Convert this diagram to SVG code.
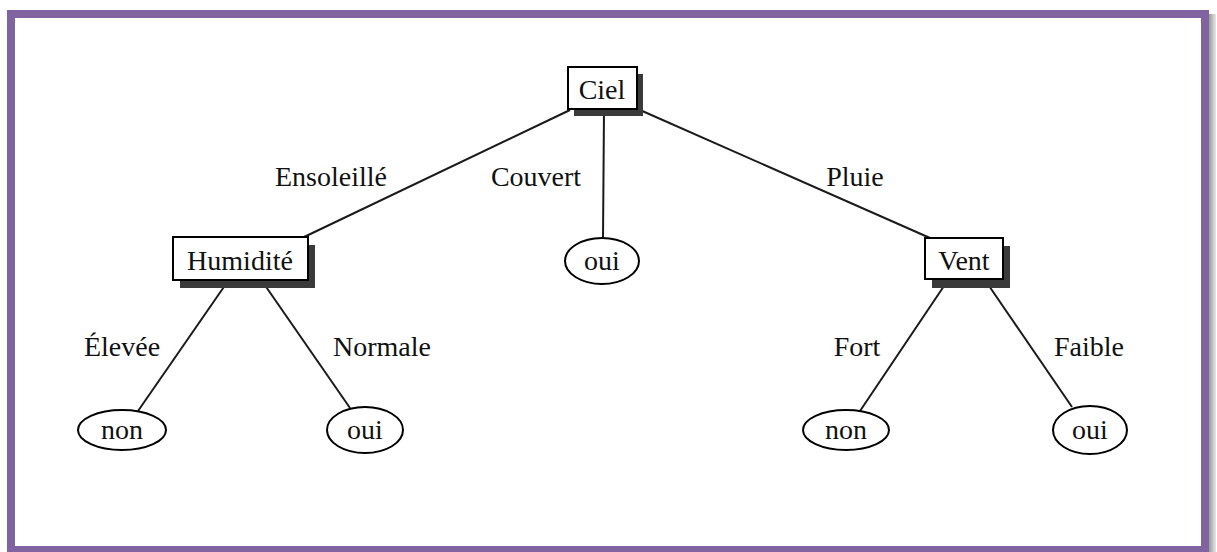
<svg xmlns="http://www.w3.org/2000/svg" width="1217" height="552" viewBox="0 0 1217 552">
  <style>
    .frame { fill: #ffffff; stroke: #8064a2; stroke-width: 8; }
    .edge { stroke: #1a1a1a; stroke-width: 2; fill: none; }
    .box { fill: #ffffff; stroke: #000000; stroke-width: 2; }
    .shadow { fill: #3a3a3a; }
    .leaf { fill: #ffffff; stroke: #000000; stroke-width: 2; }
    text { font-family: "Liberation Serif", "DejaVu Serif", serif; font-size: 28px; fill: #111111; }
    .c { text-anchor: middle; }
  </style>
  <defs>
    <linearGradient id="edgeShade" x1="0" y1="0" x2="1" y2="0">
      <stop offset="0" stop-color="#9a9a9a"/>
      <stop offset="1" stop-color="#e8e8e8"/>
    </linearGradient>
  </defs>

  <rect x="0" y="0" width="1217" height="552" fill="#ffffff"/>
  <!-- outer frame with a soft grey shadow on the right -->
  <rect x="1209" y="14" width="7" height="538" fill="url(#edgeShade)"/>
  <rect class="frame" x="11" y="14" width="1194" height="536"/>

  <g id="connectors">
    <line class="edge" x1="570" y1="110" x2="302" y2="238"/>
    <line class="edge" x1="604" y1="110" x2="603" y2="238"/>
    <line class="edge" x1="640" y1="110" x2="930" y2="238"/>
    <line class="edge" x1="228" y1="281" x2="138" y2="411"/>
    <line class="edge" x1="262" y1="281" x2="350" y2="408"/>
    <line class="edge" x1="948" y1="280" x2="860" y2="411"/>
    <line class="edge" x1="985" y1="280" x2="1072" y2="407"/>
    <text class="c" x="331" y="186">Ensoleillé</text>
    <text class="c" x="536" y="186">Couvert</text>
    <text class="c" x="855" y="186">Pluie</text>
    <text class="c" x="122" y="356">Élevée</text>
    <text class="c" x="382" y="356">Normale</text>
    <text class="c" x="857" y="356">Fort</text>
    <text class="c" x="1089" y="356">Faible</text>
  </g>

  <g id="ciel">
    <rect class="shadow" x="574" y="74" width="69" height="42"/>
    <rect class="box" x="568" y="67" width="69" height="42"/>
    <text class="c" x="602" y="99">Ciel</text>
  </g>

  <g id="humidite">
    <rect class="shadow" x="180" y="245" width="135" height="43"/>
    <rect class="box" x="173" y="237" width="135" height="43"/>
    <text class="c" x="240" y="270">Humidité</text>
  </g>

  <g id="vent">
    <rect class="shadow" x="932" y="246" width="78" height="42"/>
    <rect class="box" x="925" y="238" width="78" height="41"/>
    <text class="c" x="964" y="270">Vent</text>
  </g>

  <g id="oui-couvert">
    <ellipse class="leaf" cx="602" cy="261" rx="37" ry="23"/>
    <text class="c" x="602" y="270">oui</text>
  </g>

  <g id="non-elevee">
    <ellipse class="leaf" cx="122" cy="430" rx="44" ry="20"/>
    <text class="c" x="122" y="439">non</text>
  </g>

  <g id="oui-normale">
    <ellipse class="leaf" cx="365" cy="430" rx="38" ry="23"/>
    <text class="c" x="365" y="439">oui</text>
  </g>

  <g id="non-fort">
    <ellipse class="leaf" cx="846" cy="430" rx="43" ry="20"/>
    <text class="c" x="846" y="439">non</text>
  </g>

  <g id="oui-faible">
    <ellipse class="leaf" cx="1090" cy="430" rx="37" ry="24"/>
    <text class="c" x="1090" y="439">oui</text>
  </g>
</svg>
